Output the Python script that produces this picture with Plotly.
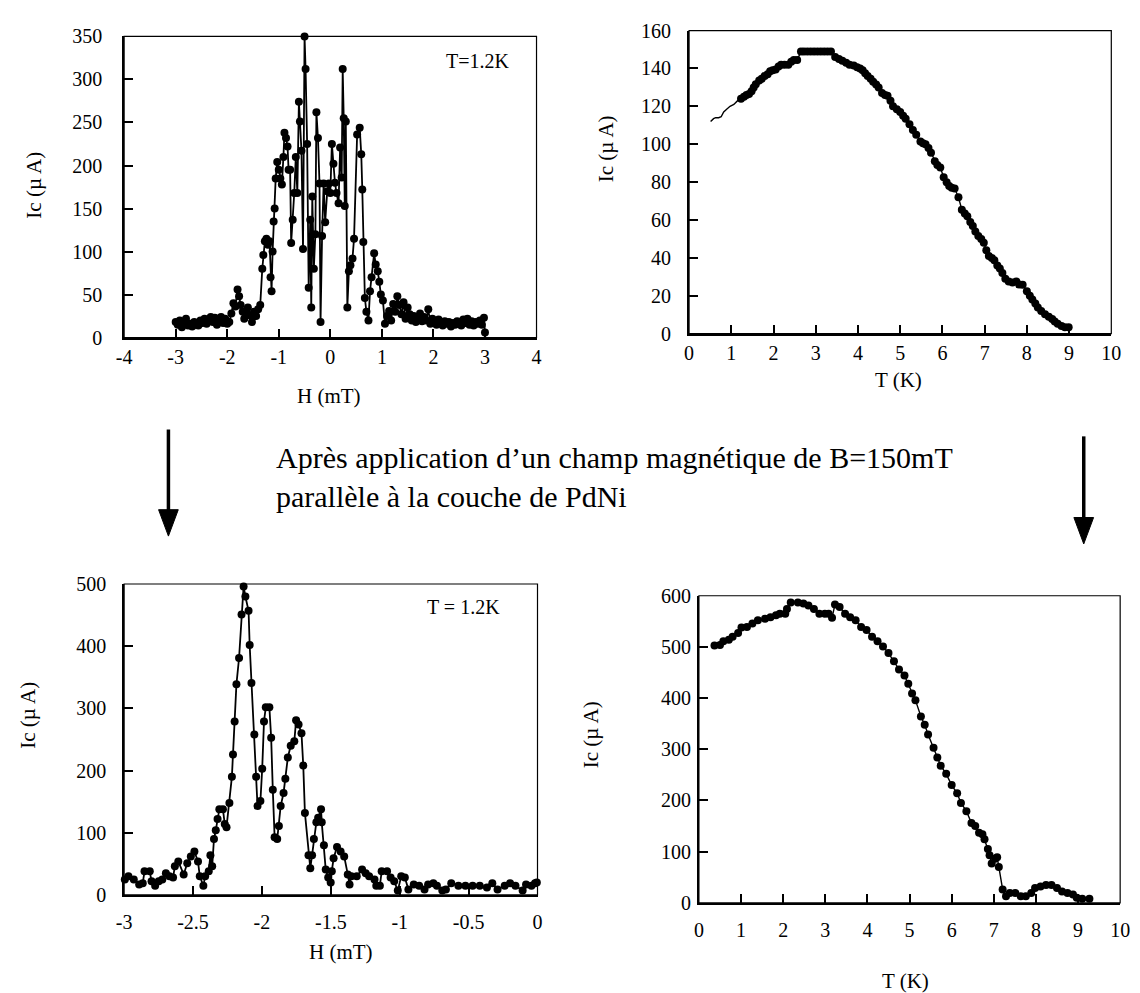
import plotly.graph_objects as go

W, H = 1140, 993

# ---------------- data ----------------
# Top-left: Ic vs H at T=1.2K
H1 = [-3.00, -2.96, -2.92, -2.88, -2.84, -2.80, -2.76, -2.72, -2.68, -2.64, -2.60, -2.56, -2.52, -2.48,
      -2.44, -2.40, -2.36, -2.32, -2.28, -2.24, -2.20, -2.16, -2.12, -2.08, -2.04, -2.00, -1.96, -1.92,
      -1.88, -1.84, -1.80, -1.77, -1.74, -1.70, -1.67, -1.63, -1.60, -1.56, -1.52, -1.48, -1.44, -1.40,
      -1.36, -1.32, -1.30, -1.27, -1.24, -1.21, -1.18, -1.16, -1.14, -1.12, -1.10, -1.08, -1.06, -1.03,
      -1.00, -0.97, -0.94, -0.91, -0.89, -0.86, -0.83, -0.81, -0.78, -0.76, -0.73, -0.70, -0.67, -0.64,
      -0.61, -0.59, -0.56, -0.53, -0.50, -0.48, -0.45, -0.42, -0.39, -0.37, -0.35, -0.32, -0.29, -0.27,
      -0.24, -0.21, -0.19, -0.16, -0.13, -0.10, -0.06, -0.03, 0.00, 0.03, 0.06, 0.09, 0.12, 0.16, 0.19,
      0.22, 0.24, 0.26, 0.28, 0.30, 0.33, 0.36, 0.39, 0.43, 0.46, 0.52, 0.57, 0.60, 0.62, 0.64, 0.67,
      0.70, 0.74, 0.77, 0.80, 0.85, 0.88, 0.92, 0.95, 0.98, 1.02, 1.06, 1.10, 1.14, 1.18, 1.22, 1.26,
      1.30, 1.34, 1.38, 1.42, 1.46, 1.50, 1.54, 1.58, 1.62, 1.66, 1.70, 1.74, 1.78, 1.82, 1.86, 1.90,
      1.94, 1.98, 2.02, 2.06, 2.10, 2.14, 2.18, 2.22, 2.26, 2.30, 2.34, 2.38, 2.42, 2.46, 2.50, 2.54,
      2.58, 2.62, 2.66, 2.70, 2.74, 2.78, 2.82, 2.86, 2.90, 2.94, 2.98, 3.00]
Ic1 = [18, 15, 20, 12, 17, 22, 14, 16, 13, 18, 15, 14, 20, 17,
       22, 16, 21, 24, 18, 23, 15, 20, 24, 17, 22, 16, 18, 28,
       40, 36, 56, 48, 38, 30, 22, 28, 35, 26, 18, 30, 25, 33,
       38, 80, 96, 112, 115, 108, 112, 70, 54, 100, 135, 150, 185, 204,
       195, 185, 178, 210, 238, 232, 222, 195, 195, 110, 137, 168, 210, 168,
       274, 251, 217, 103, 350, 312, 225, 58, 137, 35, 164, 80, 120, 262,
       232, 179, 18, 118, 179, 134, 170, 179, 168, 225, 202, 180, 168, 156, 221,
       186, 312, 255, 153, 251, 35, 77, 84, 92, 115, 236, 244, 213, 172, 111, 46,
       30, 20, 54, 70, 98, 85, 77, 65, 50, 43, 16, 25, 31, 20, 39, 30,
       48, 38, 27, 41, 22, 35, 27, 20, 25, 18, 22, 28, 19, 24, 20, 33,
       16, 22, 18, 15, 21, 17, 14, 19, 16, 18, 13, 17, 15, 19, 16, 14,
       21, 17, 22, 15, 19, 14, 18, 16, 20, 15, 23, 6]

# Top-right: Ic vs T
T2 = [0.51, 0.58, 0.63, 0.70, 0.76, 0.82, 0.89, 0.97, 1.06, 1.15, 1.23, 1.30, 1.36, 1.42, 1.48, 1.53,
      1.58, 1.66, 1.72, 1.79, 1.86, 1.92, 1.98, 2.05, 2.12, 2.18, 2.26, 2.35, 2.42, 2.48, 2.56, 2.65,
      2.72, 2.80, 2.88, 2.96, 3.04, 3.12, 3.20, 3.28, 3.36, 3.46, 3.55, 3.63, 3.72, 3.80, 3.90, 3.98,
      4.05, 4.11, 4.17, 4.23, 4.30, 4.36, 4.43, 4.49, 4.57, 4.64, 4.70, 4.77, 4.83, 4.92, 5.00, 5.07,
      5.13, 5.22, 5.30, 5.38, 5.48, 5.54, 5.60, 5.67, 5.73, 5.82, 5.88, 5.95, 6.03, 6.10, 6.16, 6.22,
      6.29, 6.38, 6.46, 6.53, 6.59, 6.66, 6.72, 6.78, 6.85, 6.92, 6.98, 7.04, 7.10, 7.17, 7.23, 7.30,
      7.36, 7.42, 7.49, 7.57, 7.66, 7.75, 7.82, 7.90, 8.00, 8.07, 8.13, 8.20, 8.26, 8.34, 8.43, 8.52,
      8.60, 8.66, 8.73, 8.82, 8.90, 8.99]
Ic2 = [112, 113.5, 114, 114, 114.5, 117, 118.5, 120, 121, 123, 124, 125, 126, 126.5, 128, 130,
       131.6, 133.7, 134.5, 136, 137, 138.5, 139, 139.4, 141, 142, 142, 142, 143.5, 144.5, 144.5, 149,
       149, 149, 149, 149, 149, 149, 149, 149, 149, 146, 145, 144, 143, 142, 141.5, 140.7,
       140, 139, 137.5, 136, 134.5, 133, 131.5, 130, 127, 126, 125.6, 123, 120, 118.5, 117, 115,
       113.5, 110.5, 107.5, 105, 101.5, 100.5, 100, 98, 95.5, 91, 89, 87.7, 82.6, 80, 78, 77,
       76.6, 72, 65.4, 63.5, 62, 59, 56.8, 54, 51.6, 50, 48, 44, 41, 40, 38.7, 36,
       34.4, 32, 29, 27.5, 27, 27.5, 26, 25.8, 22.4, 20, 18, 16, 13.8, 12, 10.3, 9,
       7.7, 6.5, 5.2, 4, 3.4, 3.4]

# Bottom-left: Ic vs H after 150 mT, T=1.2K
H3 = [-2.995, -2.969, -2.930, -2.891, -2.865, -2.852, -2.814, -2.801, -2.775, -2.749, -2.723, -2.697,
      -2.671, -2.645, -2.632, -2.607, -2.568, -2.542, -2.516, -2.490, -2.464, -2.451, -2.425, -2.412,
      -2.386, -2.374, -2.361, -2.348, -2.335, -2.322, -2.309, -2.283, -2.270, -2.257, -2.236, -2.218,
      -2.210, -2.198, -2.185, -2.166, -2.148, -2.133, -2.120, -2.097, -2.089, -2.076, -2.055, -2.042,
      -2.032, -2.011, -1.998, -1.985, -1.972, -1.946, -1.933, -1.921, -1.908, -1.889, -1.877, -1.864,
      -1.843, -1.830, -1.812, -1.791, -1.765, -1.752, -1.734, -1.713, -1.700, -1.688, -1.662, -1.649,
      -1.636, -1.623, -1.605, -1.592, -1.571, -1.566, -1.550, -1.537, -1.519, -1.501, -1.493, -1.480,
      -1.455, -1.429, -1.403, -1.377, -1.364, -1.351, -1.312, -1.273, -1.247, -1.222, -1.183, -1.170,
      -1.144, -1.131, -1.092, -1.066, -1.040, -1.014, -0.989, -0.963, -0.937, -0.898, -0.859, -0.820,
      -0.794, -0.756, -0.730, -0.691, -0.665, -0.626, -0.574, -0.523, -0.471, -0.419, -0.367, -0.328,
      -0.290, -0.238, -0.199, -0.160, -0.108, -0.083, -0.044, -0.018, -0.005]
Ic3 = [25, 30, 25, 17, 19, 38, 38, 22, 15, 22, 25, 35,
       30, 28, 46, 54, 33, 51, 62, 70, 54, 30, 15, 30,
       38, 64, 46, 90, 104, 122, 138, 138, 114, 109, 148, 190,
       226, 279, 339, 381, 451, 496, 480, 457, 402, 341, 258, 190,
       143, 151, 203, 279, 302, 302, 253, 169, 93, 90, 111, 143,
       164, 187, 221, 240, 247, 281, 274, 260, 208, 132, 64, 43,
       64, 90, 117, 124, 138, 117, 80, 41, 28, 20, 38, 59,
       77, 70, 62, 33, 17, 30, 30, 41, 35, 30, 25, 15,
       15, 38, 38, 28, 22, 7, 30, 28, 9, 17, 15, 9,
       17, 19, 15, 7, 9, 19, 15, 15, 15, 15, 12, 19,
       9, 15, 19, 15, 7, 17, 15, 19, 20]

# Bottom-right: Ic vs T after 150 mT
T4 = [0.37, 0.50, 0.58, 0.71, 0.80, 0.93, 1.01, 1.14, 1.27, 1.40, 1.57, 1.70, 1.83, 1.92, 2.05, 2.09,
      2.18, 2.35, 2.48, 2.60, 2.73, 2.86, 2.99, 3.08, 3.16, 3.23, 3.34, 3.47, 3.59, 3.72, 3.85, 3.98,
      4.11, 4.24, 4.37, 4.50, 4.63, 4.75, 4.88, 4.97, 5.06, 5.14, 5.27, 5.36, 5.44, 5.57, 5.66, 5.74,
      5.87, 6.00, 6.13, 6.22, 6.35, 6.47, 6.56, 6.65, 6.73, 6.78, 6.86, 6.90, 6.95, 7.03, 7.08, 7.12,
      7.21, 7.29, 7.38, 7.51, 7.64, 7.76, 7.89, 7.98, 8.11, 8.24, 8.37, 8.50, 8.62, 8.75, 8.88, 8.97,
      9.10, 9.27]
Ic4 = [503, 504, 511, 514, 520, 527, 538, 539, 546, 552, 555, 558, 562, 565, 565, 574,
       587, 587, 585, 581, 574, 565, 565, 565, 557, 583, 578, 565, 558, 552, 539, 533,
       520, 511, 501, 488, 472, 456, 444, 428, 409, 396, 364, 348, 329, 303, 284, 268,
       252, 230, 214, 195, 179, 156, 150, 137, 134, 124, 105, 93, 77, 86, 89, 70,
       26, 13, 19, 19, 13, 13, 19, 29, 32, 35, 35, 29, 22, 19, 16, 10,
       8, 8]

# tick labels
ticks_H1 = [-4, -3, -2, -1, 0, 1, 2, 3, 4]
labels_H1 = ["-4", "-3", "-2", "-1", "0", "1", "2", "3", "4"]
ticks_I1 = [0, 50, 100, 150, 200, 250, 300, 350]
ticks_T = [0, 1, 2, 3, 4, 5, 6, 7, 8, 9, 10]
ticks_I2 = [0, 20, 40, 60, 80, 100, 120, 140, 160]
ticks_H3 = [-3, -2.5, -2, -1.5, -1, -0.5, 0]
labels_H3 = ["-3", "-2.5", "-2", "-1.5", "-1", "-0.5", "0"]
ticks_I3 = [0, 100, 200, 300, 400, 500]
ticks_I4 = [0, 100, 200, 300, 400, 500, 600]

FONT = "Liberation Serif, Times New Roman, serif"
TICK = 20


def px(x):
    return x / W


def py(y):
    return 1 - y / H


fig = go.Figure()

fig.add_trace(go.Scatter(x=H1, y=Ic1, mode="lines+markers", xaxis="x", yaxis="y",
                         line=dict(color="black", width=1.8),
                         marker=dict(color="black", size=8, opacity=1, line=dict(width=0)),
                         cliponaxis=False))
sizes2 = [0 if t < 1.2 else 8 for t in T2]
fig.add_trace(go.Scatter(x=T2, y=Ic2, mode="lines+markers", xaxis="x2", yaxis="y2",
                         line=dict(color="black", width=1.4),
                         marker=dict(color="black", size=sizes2, opacity=1, line=dict(width=0)),
                         cliponaxis=False))
fig.add_trace(go.Scatter(x=H3, y=Ic3, mode="lines+markers", xaxis="x3", yaxis="y3",
                         line=dict(color="black", width=1.8),
                         marker=dict(color="black", size=8, opacity=1, line=dict(width=0)),
                         cliponaxis=False))
fig.add_trace(go.Scatter(x=T4, y=Ic4, mode="lines+markers", xaxis="x4", yaxis="y4",
                         line=dict(color="black", width=1.4),
                         marker=dict(color="black", size=8, opacity=1, line=dict(width=0)),
                         cliponaxis=False))


def xax(domain, anchor, rng, vals, texts, standoff):
    return dict(domain=domain, anchor=anchor, range=rng, tickmode="array", tickvals=vals,
                ticktext=texts, showline=True, linewidth=2, linecolor="black", mirror=False,
                ticks="inside", ticklen=9, tickwidth=1.5, tickcolor="black", showgrid=False,
                zeroline=False, tickfont=dict(size=TICK, color="black", family=FONT),
                ticklabelstandoff=standoff)


def yax(domain, anchor, rng, vals, standoff):
    return dict(domain=domain, anchor=anchor, range=rng, tickmode="array", tickvals=vals,
                ticktext=[str(v) for v in vals], showline=True, linewidth=2, linecolor="black",
                mirror=False, ticks="inside", ticklen=9, tickwidth=1.5, tickcolor="black",
                showgrid=False, zeroline=False, tickfont=dict(size=TICK, color="black", family=FONT),
                ticklabelstandoff=standoff)


fig.update_layout(
    width=W, height=H, autosize=False,
    margin=dict(l=0, r=0, t=0, b=0),
    paper_bgcolor="white", plot_bgcolor="white",
    showlegend=False,
    font=dict(family=FONT, color="black"),
    xaxis=xax([px(118), px(537)], "y", [-4, 4], ticks_H1, labels_H1, 0),
    yaxis=yax([py(334), py(26)], "x", [0, 350], ticks_I1, 16),
    xaxis2=xax([px(692), px(1121)], "y2", [0, 10], ticks_T, [str(t) for t in ticks_T], 0),
    yaxis2=yax([py(330), py(20)], "x2", [0, 160], ticks_I2, 12),
    xaxis3=xax([px(118), px(538)], "y3", [-3, 0], ticks_H3, labels_H3, 8),
    yaxis3=yax([py(904), py(586)], "x3", [0, 500], ticks_I3, 12),
    xaxis4=xax([px(702), px(1130)], "y4", [0, 10], ticks_T, [str(t) for t in ticks_T], 8),
    yaxis4=yax([py(912), py(598)], "x4", [0, 600], ticks_I4, 2),
)

shapes = []
for xa, ya in [("x", "y"), ("x2", "y2"), ("x3", "y3"), ("x4", "y4")]:
    shapes.append(dict(type="rect", xref=xa + " domain", yref=ya + " domain", x0=0, x1=1, y0=0, y1=1,
                       line=dict(color="black", width=1.2), fillcolor="rgba(0,0,0,0)", layer="above"))

# arrows
for ax_x, y_top, y_head, y_tip in [(163, 428, 510, 537), (1093, 435, 518, 545)]:
    shapes.append(dict(type="line", xref="paper", yref="paper", x0=px(ax_x), x1=px(ax_x),
                       y0=py(y_top), y1=py(y_head + 2), line=dict(color="black", width=3.5)))
    shapes.append(dict(type="path", xref="paper", yref="paper",
                       path=f"M {px(ax_x - 10)},{py(y_head)} L {px(ax_x + 10)},{py(y_head)} L {px(ax_x)},{py(y_tip)} Z",
                       fillcolor="black", line=dict(color="black", width=1)))
fig.update_layout(shapes=shapes)

ann = []


def text(x, y, s, size, angle=0, xanchor="center", align="center"):
    ann.append(dict(x=px(x), y=py(y), xref="paper", yref="paper", text=s, showarrow=False,
                    font=dict(size=size, color="black", family=FONT), textangle=angle,
                    xanchor=xanchor, yanchor="middle", align=align))


# axis titles
text(326, 394, "H (mT)", 21)
text(905, 377, "T (K)", 21)
text(338, 962, "H (mT)", 21)
text(912, 992, "T (K)", 21)
text(26, 178, "Ic (µ A)", 21, angle=-90)
text(607, 141, "Ic (µ A)", 21, angle=-90)
text(20, 720, "Ic (µ A)", 21, angle=-90)
text(592, 740, "Ic (µ A)", 21, angle=-90)
# inset labels
text(477, 51, "T=1.2K", 20)
text(463, 610, "T = 1.2K", 20)
# middle text
text(270, 477, "Après application d’un champ magnétique de B=150mT<br>parallèle à la couche de PdNi", 30,
     xanchor="left", align="left")

fig.update_layout(annotations=ann)

fig.write_html("out.html")
